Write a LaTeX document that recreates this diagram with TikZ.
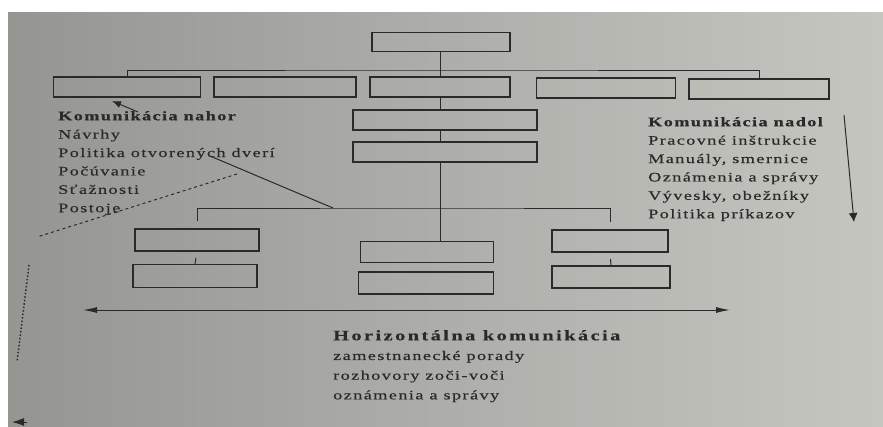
\documentclass[tikz,border=0pt]{standalone}
\usepackage{fontspec}
\setmainfont{Liberation Serif}[FakeStretch=1.4, LetterSpace=11, FakeBold=0.4]
\usetikzlibrary{arrows.meta,calc}
\definecolor{paper}{HTML}{B8B8B4}
\definecolor{paperdk}{HTML}{959592}
\definecolor{paperlt}{HTML}{C6C6C1}
\definecolor{ink}{HTML}{2A2A2A}
\tikzset{
  >={Latex[length=11pt,width=5pt]},
  unit/.style={draw=ink, line width=1.1pt, minimum height=20pt, inner sep=0pt},
  link/.style={draw=ink, line width=1pt},
  flow/.style={->, draw=ink, line width=1pt},
  list/.style={text=ink, align=left, inner sep=0pt, anchor=north west, font=\fontsize{13}{18.4}\selectfont},
}

\begin{document}
\begin{tikzpicture}[x=1pt,y=-1pt]
\useasboundingbox (0,0) rectangle (883,426);
\shade[left color=paperdk, middle color=paper, right color=paperlt] (8,12) rectangle (883,426);

% ───────────── chart ─────────────
\node[unit, minimum width=138pt, minimum height=19pt] (head) at (441,42) {};
\node[unit, minimum width=147pt] (d1) at (127,87) {};
\node[unit, minimum width=142pt] (d2) at (285,87) {};
\node[unit, minimum width=140pt] (d3) at (440,87) {};
\node[unit, minimum width=139pt] (d4) at (606,88) {};
\node[unit, minimum width=140pt] (d5) at (759,89) {};
\node[unit, minimum width=184pt] (s1) at (445,120) {};
\node[unit, minimum width=184pt] (s2) at (445,152) {};
\node[unit, minimum width=124pt, minimum height=22pt] (l1) at (197,240) {};
\node[unit, minimum width=124pt, minimum height=23pt] (l2) at (195,276) {};
\node[unit, minimum width=133pt, minimum height=21pt] (m1) at (427,252) {};
\node[unit, minimum width=135pt, minimum height=22pt] (m2) at (426,283) {};
\node[unit, minimum width=116pt, minimum height=22pt] (r1) at (610,241) {};
\node[unit, minimum width=118pt, minimum height=22pt] (r2) at (611,277) {};

\coordinate (bar1) at (440,70);
\coordinate (bar2) at (440,208);
\draw[link] (head.south -| bar1) -- (d3.north -| bar1);
\draw[link] (d1.north) |- (bar1) -| (d5.north);
\draw[link] (d3.south -| bar1) -- (s1.north -| bar1);
\draw[link] (s1.south -| bar1) -- (s2.north -| bar1);
\draw[link] (s2.south -| bar1) -- (m1.north -| bar1);
\draw[link] ([yshift=7pt]l1.north) |- (bar2) -| ([yshift=7pt]r1.north);
\draw[link] ($(l1.south)!0.5!(l2.north)$) -- (l2.north);
\draw[link] ($(r1.south)!0.5!(r2.north)$) -- (r2.north);

% ───────────── texts ─────────────
\node[list] (up) at (58,111) {\textbf{Komunikácia nahor}\\Návrhy\\Politika otvorených dverí\\Počúvanie\\Sťažnosti\\Postoje};
\node[list] (down) at (648,117) {\textbf{Komunikácia nadol}\\Pracovné inštrukcie\\Manuály, smernice\\Oznámenia a správy\\Vývesky, obežníky\\Politika príkazov};
\node[list, font=\fontsize{13}{19.7}\selectfont] (side) at (333,330) {{\fontsize{14.5}{19.7}\selectfont\addfontfeature{LetterSpace=17}\textbf{Horizontálna komunikácia}}\\zamestnanecké porady\\rozhovory zoči-voči\\oznámenia a správy};

% upward arrow and pointers
\coordinate (upT) at (138,112);
\coordinate (upH) at (112,101);
\draw[flow, >={Latex[length=9pt,width=7pt]}] (upT) -- (upH);
\coordinate (pod) at (210,156);
\coordinate (tap) at (333,208);
\draw[link] (pod) -- (tap);
\coordinate (dashA) at (237,174);
\coordinate (dashB) at (37,237);
\draw[link, dashed] (dashA) -- (dashB);
\coordinate (dotA) at (29,265);
\coordinate (dotB) at (17,362);
\draw[draw=ink, line width=1.5pt, dotted] (dotA) -- (dotB);
\coordinate (tipA) at (27,422);
\coordinate (tipB) at (12,422);
\draw[flow, >={Latex[length=12pt,width=8pt]}] (tipA) -- (tipB);

% downward arrow
\coordinate (dnT) at (844,115);
\coordinate (dnH) at (854,222);
\draw[flow, >={Latex[length=9pt,width=9pt]}] (dnT) -- (dnH);

% horizontal arrow
\coordinate (hl) at (83,310);
\coordinate (hr) at (730,310);
\draw[flow, <->, >={Latex[length=14pt,width=6pt]}] (hl) -- (hr);

\end{tikzpicture}
\end{document}
